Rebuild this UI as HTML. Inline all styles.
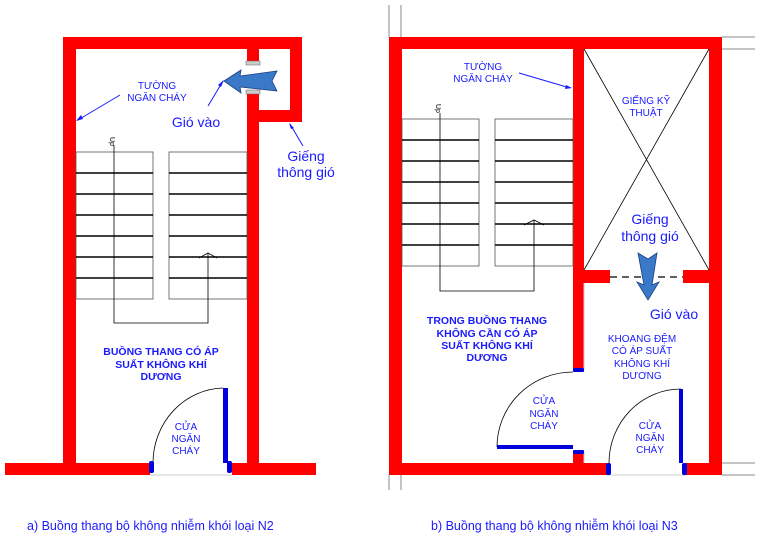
<!DOCTYPE html>
<html><head><meta charset="utf-8"><style>
html,body{margin:0;padding:0;background:#fff;}
svg{display:block}
text{font-family:"Liberation Sans",sans-serif;fill:#1a1aff}
.b{font-weight:bold;font-size:10.5px}
.s{font-size:10px}
.l{font-size:14px}
</style></head><body>
<svg width="774" height="544" viewBox="0 0 774 544">
<g fill="#ff0000">
<!-- Left diagram -->
<rect x="63" y="37" width="239" height="12"/>
<rect x="63" y="37" width="13" height="438"/>
<rect x="247" y="49" width="12" height="14"/>
<rect x="247" y="92" width="12" height="383"/>
<rect x="290" y="37" width="12" height="85"/>
<rect x="259" y="110" width="43" height="12"/>
<rect x="5" y="463" width="145" height="12"/>
<rect x="232" y="463" width="84" height="12"/>
<!-- Right diagram -->
<rect x="389" y="37" width="333" height="12"/>
<rect x="389" y="37" width="13" height="438"/>
<rect x="709" y="37" width="13" height="438"/>
<rect x="573" y="49" width="11" height="321"/>
<rect x="573" y="451" width="11" height="24"/>
<rect x="389" y="463" width="218" height="12"/>
<rect x="686" y="463" width="36" height="12"/>
<rect x="584" y="270" width="26" height="13"/>
<rect x="683" y="270" width="26" height="13"/>
</g>
<!-- vent caps -->
<rect x="246" y="61" width="14" height="4" fill="#ccc" stroke="#666" stroke-width="0.5"/>
<rect x="246" y="90" width="14" height="4" fill="#ccc" stroke="#666" stroke-width="0.5"/>
<!-- gray thin lines right -->
<g stroke="#888" stroke-width="1">
<line x1="389" y1="5" x2="389" y2="37"/><line x1="401" y1="5" x2="401" y2="37"/>
<line x1="389" y1="475" x2="389" y2="490"/><line x1="401" y1="475" x2="401" y2="490"/>
<line x1="722" y1="37" x2="755" y2="37"/><line x1="722" y1="49" x2="755" y2="49"/>
<line x1="722" y1="463" x2="755" y2="463"/><line x1="722" y1="475" x2="755" y2="475"/>
<line x1="584" y1="283" x2="584" y2="370" stroke="#ccc"/>
<line x1="584" y1="451" x2="584" y2="463" stroke="#ccc"/>
<line x1="150" y1="475" x2="232" y2="475" stroke="#ccc"/>
<line x1="607" y1="475" x2="686" y2="475" stroke="#ccc"/>
</g>
<!-- stairs left -->
<g stroke="#000" fill="none">
<rect x="76" y="152" width="77" height="147" stroke="#555" stroke-width="0.8"/>
<rect x="169" y="152" width="78" height="147" stroke="#555" stroke-width="0.8"/>
<g stroke-width="1.5">
<path d="M76 173H153M76 194H153M76 215H153M76 236H153M76 257H153M76 278H153"/>
<path d="M169 173H247M169 194H247M169 215H247M169 236H247M169 257H247M169 278H247"/>
</g>
<path d="M114 145V323H208V253" stroke-width="0.8"/>
<path d="M199 258L208 253L217 258" stroke-width="0.8"/>
<!-- stairs right -->
<rect x="402" y="119" width="77" height="147" stroke="#555" stroke-width="0.8"/>
<rect x="495" y="119" width="78" height="147" stroke="#555" stroke-width="0.8"/>
<g stroke-width="1.5">
<path d="M402 140H479M402 161H479M402 182H479M402 203H479M402 224H479M402 245H479"/>
<path d="M495 140H573M495 161H573M495 182H573M495 203H573M495 224H573M495 245H573"/>
</g>
<path d="M440 113V291H534V220" stroke-width="0.8"/>
<path d="M524 225L534 220L544 225" stroke-width="0.8"/>
<!-- X -->
<path d="M584 49L709 270M709 49L584 270" stroke-width="0.8"/>
<path d="M610 277H683" stroke-dasharray="7,5" stroke-width="1.2"/>
<!-- door arcs -->
<path d="M153 463A72 75 0 0 1 223 388" stroke-width="0.8"/>
<path d="M497 447A76 75 0 0 1 573 372" stroke-width="0.8"/>
<path d="M609 463A72 74 0 0 1 681 389" stroke-width="0.8"/>
</g>
<text x="110" y="143" font-size="7" fill="#000" style="fill:#000" transform="rotate(90 113 140)">Up</text>
<text x="436" y="110" font-size="7" style="fill:#000" transform="rotate(90 439 107)">Up</text>
<!-- doors blue -->
<g fill="#0000dd">
<rect x="223" y="388" width="5" height="75"/>
<rect x="149" y="461" width="5" height="12" rx="2"/>
<rect x="227" y="461" width="5" height="12" rx="2"/>
<rect x="497" y="445" width="76" height="4"/>
<rect x="573" y="368" width="11" height="4" rx="1"/>
<rect x="573" y="450" width="11" height="4" rx="1"/>
<rect x="679" y="389" width="4" height="74"/>
<rect x="606" y="463" width="5" height="12" rx="2"/>
<rect x="682" y="463" width="5" height="12" rx="2"/>
</g>
<!-- arrows -->
<path d="M224 81L241 70L240 76L277 71L272 81L277 91L240 87L241 93Z" fill="#3a78c8" stroke="#1a3f80" stroke-width="0.8"/>
<path d="M638 253L648 259L657 253L652 285L659 282L648 300L637 282L644 285Z" fill="#3a78c8" stroke="#1a3f80" stroke-width="0.8"/>
<!-- pointer lines -->
<g stroke="#1a1aff" stroke-width="1" fill="none">
<line x1="120" y1="95" x2="78" y2="120"/>
<line x1="208" y1="106" x2="223" y2="81"/>
<line x1="303" y1="146" x2="290" y2="124"/>
<line x1="519" y1="73" x2="570" y2="88"/>
</g>
<g fill="#1a1aff">
<path d="M76 121L81 115L83 119Z"/>
<path d="M224 80L221 87L218 85Z"/>
<path d="M289 123L294 128L291 129Z"/>
<path d="M572 88L565 89L566 85Z"/>
</g>
<!-- labels -->
<g text-anchor="middle">
<text class="s" x="157" y="89">TƯỜNG</text>
<text class="s" x="157" y="101">NGĂN CHÁY</text>
<text class="l" x="196" y="127">Gió vào</text>
<text class="l" x="306" y="161">Giếng</text>
<text class="l" x="306" y="177">thông gió</text>
<text class="b" x="161" y="355">BUỒNG THANG CÓ ÁP</text>
<text class="b" x="161" y="368">SUẤT KHÔNG KHÍ</text>
<text class="b" x="161" y="380">DƯƠNG</text>
<text class="s" x="186" y="430">CỬA</text>
<text class="s" x="186" y="442">NGĂN</text>
<text class="s" x="186" y="454">CHÁY</text>
<text class="s" x="483" y="70">TƯỜNG</text>
<text class="s" x="483" y="82">NGĂN CHÁY</text>
<text class="s" x="646" y="104">GIẾNG KỸ</text>
<text class="s" x="646" y="116">THUẬT</text>
<text class="l" x="650" y="224">Giếng</text>
<text class="l" x="650" y="241">thông gió</text>
<text class="l" x="674" y="319">Gió vào</text>
<text class="b" x="487" y="324">TRONG BUỒNG THANG</text>
<text class="b" x="487" y="337">KHÔNG CẦN CÓ ÁP</text>
<text class="b" x="487" y="349">SUẤT KHÔNG KHÍ</text>
<text class="b" x="487" y="361">DƯƠNG</text>
<text class="s" x="642" y="342">KHOANG ĐỆM</text>
<text class="s" x="642" y="354">CÓ ÁP SUẤT</text>
<text class="s" x="642" y="367">KHÔNG KHÍ</text>
<text class="s" x="642" y="379">DƯƠNG</text>
<text class="s" x="544" y="404">CỬA</text>
<text class="s" x="544" y="417">NGĂN</text>
<text class="s" x="544" y="429">CHÁY</text>
<text class="s" x="650" y="429">CỬA</text>
<text class="s" x="650" y="441">NGĂN</text>
<text class="s" x="650" y="453">CHÁY</text>
</g>
<text x="27" y="530" font-size="12.5">a) Buồng thang bộ không nhiễm khói loại N2</text>
<text x="431" y="530" font-size="12.5">b) Buồng thang bộ không nhiễm khói loại N3</text>
</svg>
</body></html>
